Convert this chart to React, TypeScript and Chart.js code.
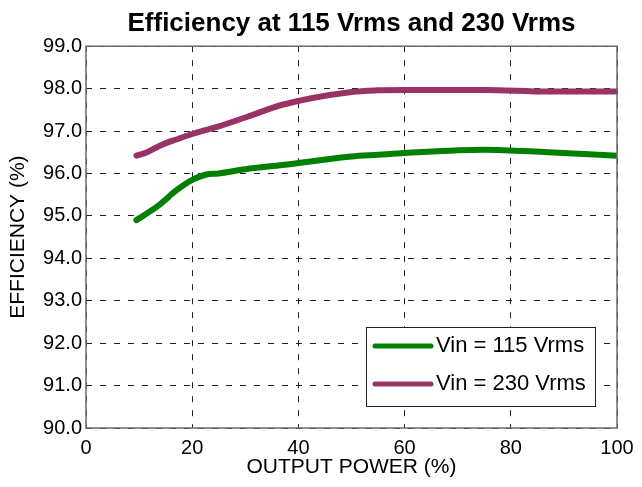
import React, { useEffect, useRef } from "react";
import { Chart, registerables } from "chart.js";

Chart.register(...registerables);

const outputPower = [9.5, 11.5, 14, 17, 20, 22.5, 25, 30, 37, 50, 55, 60, 75, 87, 100];
const eff115 = [94.9, 95.06, 95.28, 95.6, 95.85, 95.97, 96.0, 96.1, 96.2, 96.4, 96.44, 96.48, 96.56, 96.5, 96.42];
const eff230 = [96.42, 96.5, 96.66, 96.8, 96.93, 97.02, 97.11, 97.32, 97.62, 97.92, 97.96, 97.97, 97.97, 97.93, 97.93];
const seriesLabels = ["Vin = 115 Vrms", "Vin = 230 Vrms"];
const seriesColors = ["#008000", "#993366"];
const titleText = "Efficiency at 115 Vrms and 230 Vrms";
const xTitle = "OUTPUT POWER (%)";
const yTitle = "EFFICIENCY (%)";

const FONT = "'Liberation Sans', Arial, Helvetica, sans-serif";

const boxPlugin = {
  id: "boxPlugin",
  afterDatasetsDraw(chart: any) {
    const { ctx, chartArea } = chart;
    ctx.save();
    ctx.strokeStyle = "#6b6b6b";
    ctx.lineWidth = 1.5;
    ctx.setLineDash([]);
    ctx.strokeRect(chartArea.left, chartArea.top, chartArea.right - chartArea.left, chartArea.bottom - chartArea.top);
    ctx.restore();
  },
  afterDraw(chart: any) {
    const { ctx, chartArea } = chart;
    const w = 229;
    const h = 79;
    const x = chartArea.right - 22 - w;
    const y = chartArea.bottom - 22 - h;
    ctx.save();
    ctx.fillStyle = "#ffffff";
    ctx.fillRect(x, y, w, h);
    ctx.strokeStyle = "#222";
    ctx.lineWidth = 1;
    ctx.strokeRect(x + 0.5, y + 0.5, w, h);
    ctx.font = `22px ${FONT}`;
    ctx.textBaseline = "middle";
    ctx.textAlign = "left";
    chart.data.datasets.forEach((ds: any, i: number) => {
      const ly = y + 19 + i * 38;
      ctx.strokeStyle = ds.borderColor;
      ctx.lineWidth = 5;
      ctx.lineCap = "round";
      ctx.beginPath();
      ctx.moveTo(x + 9, ly);
      ctx.lineTo(x + 65, ly);
      ctx.stroke();
      ctx.fillStyle = "#000";
      ctx.fillText(ds.label, x + 70, ly);
    });
    ctx.restore();
  },
};

export default function App() {
  const ref = useRef<HTMLCanvasElement>(null);
  useEffect(() => {
    if (!ref.current) return;
    const mk = (vals: number[]) => outputPower.map((x, i) => ({ x, y: vals[i] }));
    const chart = new Chart(ref.current, {
      type: "line",
      data: {
        datasets: [
          {
            label: seriesLabels[0],
            data: mk(eff115),
            borderColor: seriesColors[0],
            backgroundColor: seriesColors[0],
            borderWidth: 6,
            pointRadius: 0,
            cubicInterpolationMode: "monotone",
            borderCapStyle: "round",
            borderJoinStyle: "round",
          },
          {
            label: seriesLabels[1],
            data: mk(eff230),
            borderColor: seriesColors[1],
            backgroundColor: seriesColors[1],
            borderWidth: 6,
            pointRadius: 0,
            cubicInterpolationMode: "monotone",
            borderCapStyle: "round",
            borderJoinStyle: "round",
          },
        ],
      },
      options: {
        responsive: false,
        animation: false,
        layout: { padding: { left: 0, right: 25, top: 0, bottom: 0 } },
        plugins: {
          legend: { display: false },
          tooltip: { enabled: false },
          title: {
            display: true,
            text: titleText,
            fullSize: false,
            color: "#000",
            font: { family: FONT, size: 26, weight: "bold", lineHeight: 1.2 },
            padding: { top: 8, bottom: 7 },
          },
        },
        scales: {
          x: {
            type: "linear",
            min: 0,
            max: 100,
            ticks: {
              stepSize: 20,
              color: "#000",
              font: { family: FONT, size: 20 },
              padding: 8,
              maxRotation: 0,
            },
            grid: { color: "#222", lineWidth: 1, drawTicks: false },
            border: { display: false, dash: [6, 8] },
            title: {
              display: true,
              text: xTitle,
              color: "#000",
              font: { family: FONT, size: 21 },
              padding: { top: 0, bottom: 7 },
            },
            afterFit(scale: any) {
              scale.height = 59;
            },
          },
          y: {
            min: 90,
            max: 99,
            ticks: {
              stepSize: 1,
              color: "#000",
              font: { family: FONT, size: 20 },
              padding: 4,
              callback: (v: any) => Number(v).toFixed(1),
            },
            grid: { color: "#222", lineWidth: 1, drawTicks: false },
            border: { display: false, dash: [6, 8] },
            title: {
              display: true,
              text: yTitle,
              color: "#000",
              font: { family: FONT, size: 21 },
              padding: { top: 6, bottom: 0 },
            },
            afterFit(scale: any) {
              scale.width = 86;
            },
          },
        },
      },
      plugins: [boxPlugin],
    } as any);
    return () => chart.destroy();
  }, []);
  return (
    <div style={{ position: "absolute", left: 0, top: 0, width: 642, height: 487, background: "#fff" }}>
      <canvas ref={ref} width={642} height={487} />
    </div>
  );
}
